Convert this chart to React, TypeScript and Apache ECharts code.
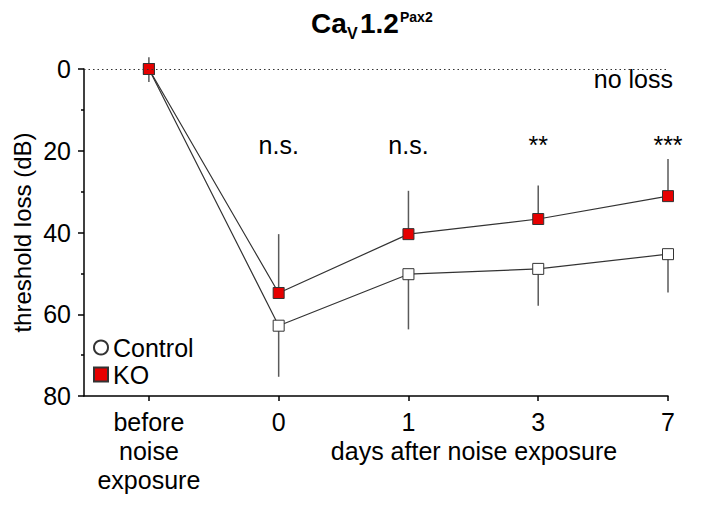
import React, { useEffect, useRef } from 'react';
import * as echarts from 'echarts';

const categories = ['before\nnoise\nexposure', '0', '1', '3', '7'];
const controlMean = [0, 62.8, 50.2, 48.9, 45.3];
const controlErr = [3.2, 12.5, 13.5, 9.0, 9.4];
const koMean = [0, 54.8, 40.4, 36.7, 31.1];
const koErr = [2.9, 14.4, 10.6, 8.2, 9.1];
const sigLabels = ['', 'n.s.', 'n.s.', '**', '***'];
const yTicks = [0, 20, 40, 60, 80];

const FONT = '"Liberation Sans", Arial, Helvetica, sans-serif';
const SIG_LEVEL = 18.5;
const FS = 25;

export default function App() {
  const ref = useRef<HTMLDivElement>(null);
  useEffect(() => {
    const chart = echarts.init(ref.current!, null, { renderer: 'svg' });
    const idx = categories.map((_, i) => i);
    const errData = (means: number[], errs: number[], dir: number) =>
      means.map((m, i) => [i, m, m + dir * errs[i]]);
    const errSeries = (data: number[][]) => ({
      type: 'custom',
      z: 1,
      silent: true,
      renderItem: (_p: any, api: any) => {
        const p1 = api.coord([api.value(0), api.value(1)]);
        const p2 = api.coord([api.value(0), api.value(2)]);
        return {
          type: 'line',
          shape: { x1: p1[0], y1: p1[1], x2: p2[0], y2: p2[1] },
          style: { stroke: '#5a5a5a', lineWidth: 1.5 },
        };
      },
      data,
      encode: { x: 0, y: [1, 2] },
    });
    const txt = (text: string, x: number, y: number, size: number, bold = false, align = 'left') => ({
      type: 'text',
      x,
      y,
      silent: true,
      style: {
        text,
        fill: '#000',
        fontSize: size,
        fontWeight: bold ? 'bold' : 'normal',
        fontFamily: FONT,
        textAlign: align,
        verticalAlign: 'middle',
      },
    });
    chart.setOption({
      animation: false,
      backgroundColor: '#fff',
      textStyle: { fontFamily: FONT },
      grid: { left: 84, right: 33, top: 69, bottom: 109, containLabel: false, outerBoundsMode: 'none' },
      legend: {
        orient: 'vertical',
        left: 88,
        top: 330,
        itemWidth: 14,
        itemHeight: 14,
        itemGap: 2,
        textStyle: { fontSize: FS, color: '#000', lineHeight: 25, fontFamily: FONT },
        data: [
          { name: 'Control', icon: 'circle' },
          { name: 'KO', icon: 'rect' },
        ],
      },
      xAxis: {
        type: 'value',
        min: -0.5,
        max: 4,
        axisLine: { show: true, onZero: false, lineStyle: { color: '#000', width: 1.5 } },
        axisTick: { show: true, customValues: idx, length: 5, lineStyle: { color: '#000', width: 1.5 } },
        axisLabel: {
          customValues: idx,
          formatter: (v: number) => categories[Math.round(v)] ?? '',
          fontSize: FS,
          lineHeight: 29,
          margin: 11,
          color: '#000',
          fontFamily: FONT,
        },
        splitLine: { show: false },
      },
      yAxis: {
        type: 'value',
        inverse: true,
        min: yTicks[0],
        max: yTicks[yTicks.length - 1],
        interval: yTicks[1] - yTicks[0],
        name: 'threshold loss (dB)',
        nameLocation: 'middle',
        nameRotate: 90,
        nameGap: 50,
        nameMoveOverlap: false,
        nameTextStyle: { fontSize: 24, color: '#000', fontFamily: FONT },
        axisLine: { show: true, onZero: false, lineStyle: { color: '#000', width: 1.5 } },
        axisTick: { show: true, length: 6, lineStyle: { color: '#000', width: 1.5 } },
        minorTick: { show: true, splitNumber: 2, length: 3, lineStyle: { color: '#000', width: 1.5 } },
        axisLabel: { fontSize: FS, margin: 13, color: '#000', fontFamily: FONT },
        splitLine: { show: false },
        minorSplitLine: { show: false },
      },
      series: [
        errSeries(errData(controlMean, controlErr, 1)),
        errSeries(errData(koMean, koErr, -1)),
        {
          name: 'Control',
          type: 'line',
          z: 3,
          data: controlMean.map((v, i) => [i, v]),
          symbol: 'rect',
          symbolSize: 11,
          lineStyle: { color: '#333', width: 1.2 },
          itemStyle: { color: '#fff', borderColor: '#333', borderWidth: 1 },
          markLine: {
            silent: true,
            symbol: 'none',
            label: { show: false },
            lineStyle: { type: [1.5, 3], color: '#333', width: 1.2 },
            data: [{ yAxis: 0 }],
          },
        },
        {
          name: 'KO',
          type: 'line',
          z: 4,
          data: koMean.map((v, i) => [i, v]),
          symbol: 'rect',
          symbolSize: 11,
          lineStyle: { color: '#333', width: 1.2 },
          itemStyle: { color: '#e60000', borderColor: '#333', borderWidth: 1 },
        },
        {
          type: 'scatter',
          silent: true,
          symbolSize: 0,
          itemStyle: { opacity: 1 },
          data: sigLabels
            .map((s, i) => ({ value: [i, SIG_LEVEL], label: { formatter: s } }))
            .filter((_d, i) => sigLabels[i] !== ''),
          label: { show: true, position: 'inside', fontSize: FS, color: '#000', opacity: 1, fontFamily: FONT },
        },
      ],
      graphic: [
        txt('Ca', 311, 23, 28, true),
        txt('V', 347, 33, 16, true),
        txt('1.2', 360, 23, 28, true),
        txt('Pax2', 400, 17, 14, true),
        txt('days after noise exposure', 474, 451, FS, false, 'center'),
        txt('no loss', 673, 79, FS, false, 'right'),
      ],
    });
    return () => chart.dispose();
  }, []);
  return <div ref={ref} style={{ position: 'fixed', left: 0, top: 0, width: 701, height: 505 }} />;
}
